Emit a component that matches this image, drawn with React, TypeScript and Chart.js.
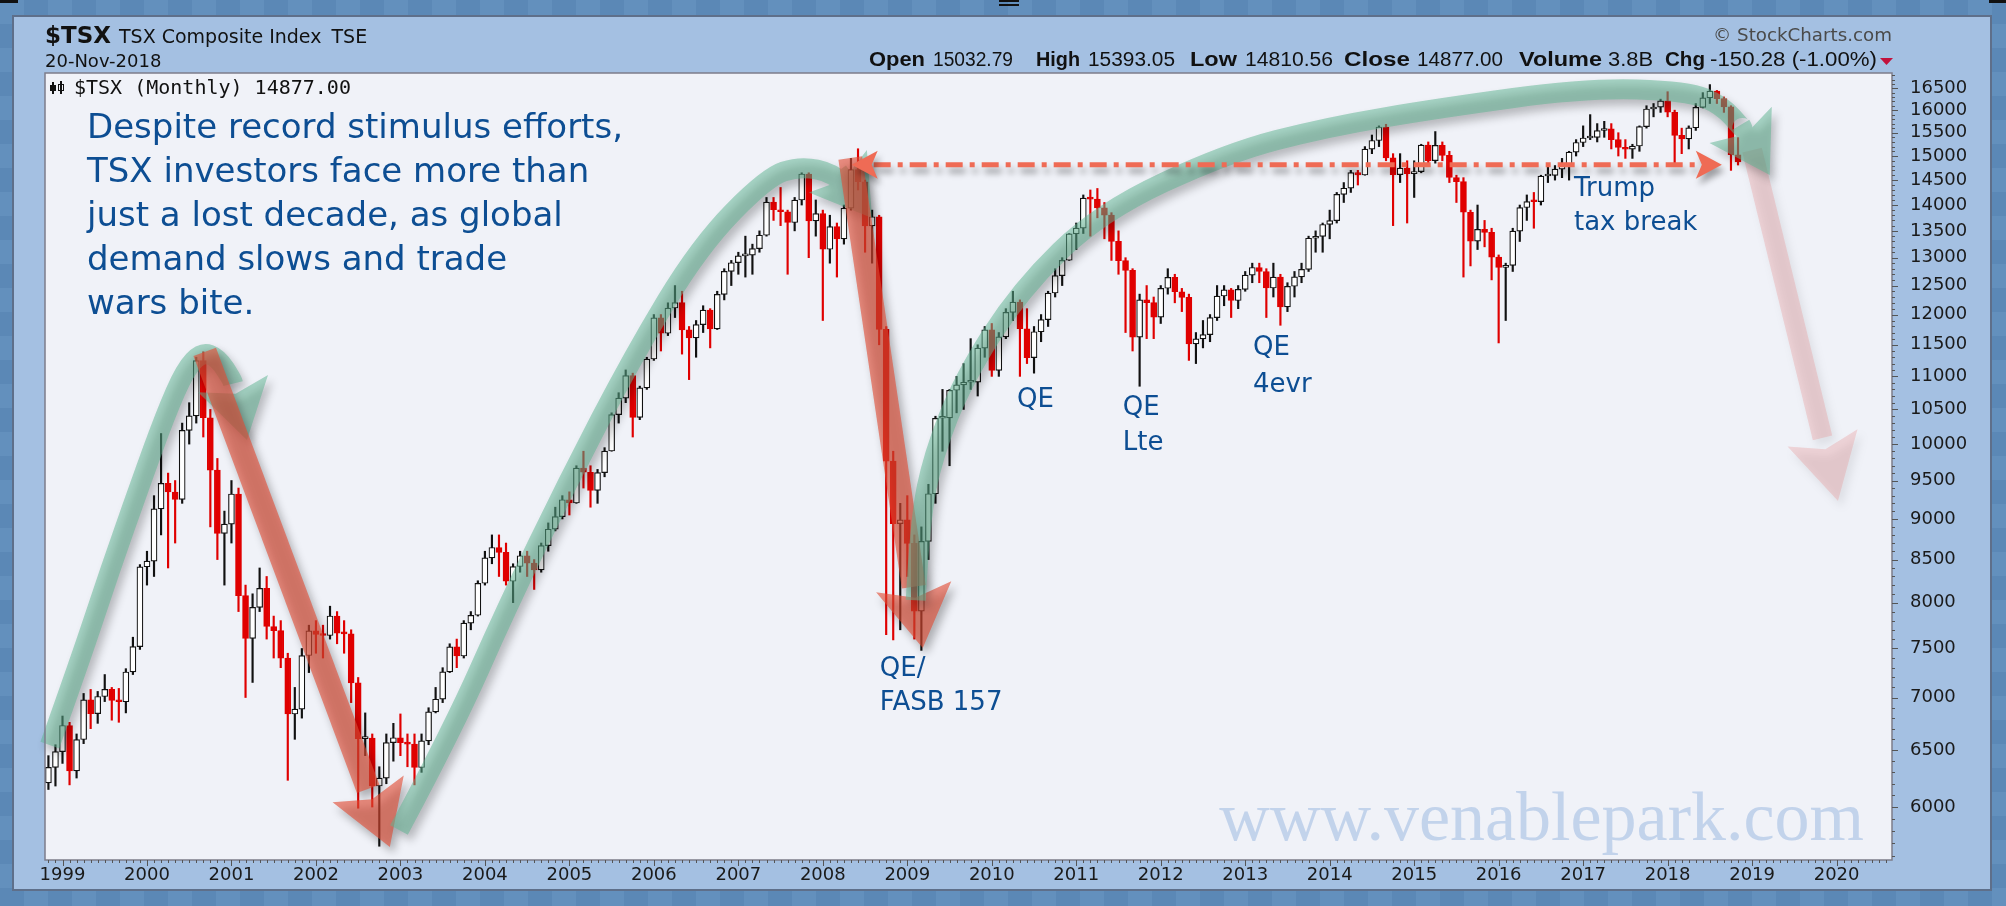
import React, { useEffect, useRef } from "react";
import { Chart, registerables } from "chart.js";

Chart.register(...registerables);

const CANVAS_W = 2006;
const CANVAS_H = 906;

// First candle is Nov 1998; month index 0 = Jan 1999
const FIRST_MONTH_INDEX = -2;
const FIRST_OPEN = 6208;

// Monthly closes, Nov 1998 .. Nov 2018
const closes = [
  6344, 6486,
  6730, 6313, 6598, 6976, 6842, 7010, 7081, 6971, 6958, 7256, 7520, 8414,
  8481, 9129, 9462, 9348, 9252, 10196, 10406, 11248, 10378, 9640, 8820, 8934,
  9322, 8079, 7608, 7947, 8162, 7736, 7691, 7399, 6839, 6886, 7426, 7688,
  7649, 7638, 7851, 7663, 7656, 7146, 6606, 6612, 6180, 6249, 6570, 6615,
  6569, 6555, 6343, 6586, 6860, 6983, 7258, 7517, 7421, 7773, 7859, 8221,
  8521, 8646, 8586, 8244, 8417, 8546, 8458, 8377, 8668, 8871, 9030, 9247,
  9204, 9668, 9612, 9369, 9607, 9903, 10423, 10669, 11012, 10383, 10824, 11272,
  11946, 11688, 12111, 12204, 11745, 11613, 11831, 12074, 11761, 12345, 12752, 12908,
  13034, 13045, 13166, 13417, 14057, 13907, 13869, 13660, 14099, 14625, 13689, 13833,
  13155, 13583, 13350, 13937, 14715, 14467, 13593, 13771, 11753, 9763, 8942, 8988,
  8695, 7904, 8720, 9325, 10370, 10375, 10787, 10868, 10910, 10911, 11447, 11746,
  11094, 11630, 12038, 12211, 11763, 11294, 11713, 11914, 12369, 12676, 12953, 13443,
  13552, 14137, 14116, 13945, 13803, 13301, 12946, 12769, 11624, 12252, 12204, 11955,
  12452, 12644, 12392, 12293, 11513, 11597, 11665, 11949, 12317, 12423, 12239, 12434,
  12685, 12822, 12750, 12457, 12650, 12129, 12487, 12654, 12787, 13361, 13395, 13622,
  13695, 14210, 14335, 14652, 14604, 15146, 15331, 15626, 14961, 14613, 14745, 14632,
  14674, 15234, 14902, 15225, 15014, 14553, 14468, 13859, 13307, 13529, 13470, 13010,
  12822, 12860, 13494, 13951, 14066, 14065, 14583, 14598, 14725, 14787, 15083, 15288,
  15386, 15399, 15548, 15586, 15350, 15182, 15144, 15212, 15635, 16026, 16067, 16209,
  15952, 15443, 15367, 15608, 16062, 16278, 16434, 16263, 16073, 15027, 14877,
];

const highs = [
  6450, 6550,
  6820, 6760, 6650, 7040, 7080, 7060, 7230, 7100, 7090, 7290, 7620, 8440,
  8600, 9300, 10150, 9600, 9500, 10300, 10600, 11300, 11388, 10500, 9800, 9100,
  9500, 9400, 8200, 8100, 8400, 8300, 7850, 7800, 7450, 7100, 7500, 7750,
  7800, 7750, 7960, 7900, 7800, 7700, 7200, 6850, 6650, 6350, 6650, 6750,
  6840, 6650, 6650, 6650, 6900, 7100, 7300, 7550, 7600, 7800, 7900, 8250,
  8600, 8800, 8800, 8700, 8450, 8600, 8600, 8500, 8700, 8950, 9150, 9300,
  9350, 9700, 9900, 9700, 9650, 9950, 10450, 10750, 11100, 11050, 10850, 11300,
  12000, 12000, 12200, 12500, 12400, 11800, 11900, 12150, 12100, 12400, 12800, 12950,
  13100, 13400, 13250, 13500, 14150, 14150, 14350, 13900, 14150, 14650, 14650, 14100,
  13900, 13800, 13650, 14000, 14950, 15154, 14500, 13900, 13800, 11800, 9900, 9200,
  9300, 8800, 8900, 9450, 10400, 10800, 10800, 11000, 11200, 11600, 11500, 11800,
  11850, 11700, 12100, 12400, 12250, 12100, 11800, 12000, 12400, 12800, 13000, 13450,
  13650, 14200, 14300, 14330, 14050, 13850, 13500, 13000, 12800, 12350, 12500, 12300,
  12500, 12800, 12700, 12450, 12350, 11700, 11900, 12000, 12500, 12500, 12450, 12500,
  12750, 12900, 12900, 12800, 12900, 12700, 12550, 12750, 12900, 13400, 13500, 13650,
  13900, 14250, 14450, 14700, 14700, 15200, 15450, 15650, 15685, 15050, 15050, 14900,
  14900, 15250, 15300, 15525, 15300, 15100, 14600, 14550, 13900, 14000, 13700, 13550,
  13050, 12900, 13550, 14000, 14200, 14250, 14600, 14800, 14800, 14950, 15100, 15350,
  15650, 15900, 15700, 15750, 15700, 15500, 15350, 15250, 15650, 16100, 16150, 16250,
  16421, 16000, 15600, 15650, 16150, 16400, 16586, 16450, 16300, 16100, 15393,
];

const lows = [
  6150, 6180,
  6380, 6190, 6250, 6560, 6700, 6750, 6960, 6780, 6760, 6850, 7230, 7490,
  8200, 8300, 8800, 8400, 8700, 9200, 10000, 10300, 10100, 8900, 8500, 8200,
  8700, 7900, 7000, 7150, 7900, 7600, 7400, 7300, 6230, 6600, 6800, 7250,
  7450, 7400, 7600, 7550, 7450, 6950, 5990, 6450, 6000, 5678, 6200, 6400,
  6450, 6350, 6190, 6300, 6550, 6850, 6950, 7250, 7300, 7400, 7700, 7850,
  8200, 8450, 8300, 8200, 8000, 8350, 8300, 8150, 8350, 8600, 8850, 9000,
  9050, 9200, 9400, 9150, 9200, 9550, 9900, 10300, 10600, 10100, 10350, 10800,
  11250, 11400, 11650, 11950, 11350, 10950, 11300, 11700, 11450, 11750, 12250, 12500,
  12700, 12650, 12700, 13100, 13400, 13700, 13600, 12700, 13500, 14000, 13000, 13400,
  11900, 12900, 12650, 13250, 13900, 14300, 13100, 12900, 11500, 7648, 7591, 7700,
  8300, 7600, 7480, 8500, 9200, 9900, 9700, 10450, 10500, 10800, 10700, 11300,
  11000, 11000, 11600, 11900, 11000, 11200, 11050, 11550, 11800, 12300, 12500, 12950,
  13150, 13450, 13400, 13750, 13350, 12950, 12700, 11700, 11400, 10848, 11600, 11600,
  11850, 12350, 12200, 12050, 11250, 11200, 11450, 11550, 11900, 12150, 11950, 12100,
  12400, 12550, 12550, 11950, 12300, 11820, 12050, 12300, 12550, 12750, 13100, 13100,
  13350, 13650, 14050, 14250, 14400, 14600, 15050, 15200, 14900, 13600, 14450, 13650,
  14150, 14650, 14800, 14850, 14900, 14450, 14050, 12650, 12850, 13150, 13200, 12600,
  11530, 11900, 12750, 13300, 13700, 13550, 14000, 14450, 14500, 14550, 14500, 15000,
  15200, 15350, 15300, 15400, 15150, 15000, 14950, 14950, 15100, 15600, 15850, 15950,
  15850, 14785, 15050, 15150, 15550, 16050, 16150, 16150, 15950, 14700, 14811,
];

const yearLabels = [
  "1999", "2000", "2001", "2002", "2003", "2004", "2005", "2006", "2007", "2008", "2009",
  "2010", "2011", "2012", "2013", "2014", "2015", "2016", "2017", "2018", "2019", "2020",
];
const priceTicks = [
  6000, 6500, 7000, 7500, 8000, 8500, 9000, 9500, 10000, 10500, 11000,
  11500, 12000, 12500, 13000, 13500, 14000, 14500, 15000, 15500, 16000, 16500,
];

// annotation paths in [month index, index value]
const greenArrow1: [number, number][] = [
  [-1.8, 6547], [2.5, 7378], [6.75, 8376], [11.0, 9440], [14.6, 10418], [17.4, 11100],
  [19.8, 11386], [22.1, 11290], [24.1, 10943], [26.2, 10058],
];
const redArrow1: [number, number][] = [[20.2, 11386], [46.5, 5672]];
const greenArrow2: [number, number][] = [
  [47.8, 5809], [55.6, 6715], [63.0, 7926], [71.7, 9467], [81.0, 11306], [90.5, 13218],
  [100.1, 14563], [104.8, 14790], [109.5, 14645], [112.6, 14199], [115.0, 13745],
];
const redArrow2: [number, number][] = [[111.9, 14958], [122.2, 7504]];
const greenArrow3: [number, number][] = [
  [121.2, 8027], [121.8, 8987], [123.7, 9847], [127.9, 10943], [136.0, 12421], [147.4, 13862],
  [165.4, 15064], [179.6, 15624], [195.7, 16048], [216.5, 16506], [230.8, 16436],
  [235.7, 16116], [238.8, 15558], [242.5, 14603],
];
const pinkArrow: [number, number][] = [[240.0, 15127], [252.2, 9230]];
const resistanceLevel = 14817;
const resistanceFrom = 112.1;
const resistanceTo = 235.7;

const mainText = [
  "Despite record stimulus efforts,",
  "TSX investors face more than",
  "just a lost decade, as global",
  "demand slows and trade",
  "wars bite.",
];
const labelNotes: { m: number; v: number; text: string }[] = [
  { m: 116.1, v: 7214, text: "QE/" },
  { m: 116.1, v: 6878, text: "FASB 157" },
  { m: 135.6, v: 10538, text: "QE" },
  { m: 150.6, v: 10418, text: "QE" },
  { m: 150.6, v: 9917, text: "Lte" },
  { m: 169.1, v: 11337, text: "QE" },
  { m: 169.1, v: 10762, text: "4evr" },
  { m: 214.7, v: 14179, text: "Trump" },
  { m: 214.7, v: 13516, text: "tax break" },
];

// quote header pieces: [text, bold, startX, endX]
const quoteRow: [string, boolean, number, number][] = [
  ["Open", true, 869, 925],
  ["15032.79", false, 933, 1013],
  ["High", true, 1036, 1080],
  ["15393.05", false, 1088, 1175],
  ["Low", true, 1190, 1237],
  ["14810.56", false, 1245, 1333],
  ["Close", true, 1344, 1410],
  ["14877.00", false, 1417, 1503],
  ["Volume", true, 1519, 1602],
  ["3.8B", false, 1608, 1653],
  ["Chg", true, 1665, 1705],
  ["-150.28 (-1.00%)", false, 1710, 1877],
];

const SANS = '"DejaVu Sans", Verdana, sans-serif';
const ARIAL = '"Liberation Sans", Arial, sans-serif';
const NOTE_BLUE = "#0d4e93";

type Pt = [number, number];

function fitText(ctx: CanvasRenderingContext2D, text: string, x0: number, x1: number, y: number) {
  const w = ctx.measureText(text).width;
  ctx.save();
  ctx.translate(x0, y);
  ctx.scale((x1 - x0) / w, 1);
  ctx.textAlign = "left";
  ctx.fillText(text, 0, 0);
  ctx.restore();
}

function drawArrow(
  chart: any,
  pts: Pt[],
  o: { color: string; alpha: number; width: number; headLen: number; headW: number; shadow: string }
) {
  const { ctx } = chart;
  const xs = chart.scales.x;
  const ys = chart.scales.y;
  const p: Pt[] = pts.map(([m, v]) => [xs.getPixelForValue(m), ys.getPixelForValue(v)]);
  const off = document.createElement("canvas");
  off.width = chart.width;
  off.height = chart.height;
  const c = off.getContext("2d")!;
  const n = p.length;
  const tip = p[n - 1];
  const prev = p[n - 2];
  let dx = tip[0] - prev[0];
  let dy = tip[1] - prev[1];
  const L = Math.hypot(dx, dy);
  dx /= L;
  dy /= L;
  const base: Pt = [tip[0] - dx * o.headLen, tip[1] - dy * o.headLen];
  const path: Pt[] = [...p.slice(0, n - 1), base];
  c.strokeStyle = o.color;
  c.lineWidth = o.width;
  c.lineCap = "butt";
  c.lineJoin = "round";
  c.beginPath();
  c.moveTo(path[0][0], path[0][1]);
  if (path.length === 2) {
    c.lineTo(path[1][0], path[1][1]);
  } else {
    for (let i = 1; i < path.length - 1; i++) {
      const mx = (path[i][0] + path[i + 1][0]) / 2;
      const my = (path[i][1] + path[i + 1][1]) / 2;
      c.quadraticCurveTo(path[i][0], path[i][1], mx, my);
    }
    c.lineTo(path[path.length - 1][0], path[path.length - 1][1]);
  }
  c.stroke();
  const nx = -dy;
  const ny = dx;
  c.fillStyle = o.color;
  c.beginPath();
  c.moveTo(tip[0], tip[1]);
  c.lineTo(base[0] + nx * o.headW, base[1] + ny * o.headW);
  c.lineTo(base[0] + dx * o.headLen * 0.18, base[1] + dy * o.headLen * 0.18);
  c.lineTo(base[0] - nx * o.headW, base[1] - ny * o.headW);
  c.closePath();
  c.fill();
  ctx.save();
  ctx.globalAlpha = o.alpha;
  ctx.shadowColor = o.shadow;
  ctx.shadowBlur = 9;
  ctx.shadowOffsetX = 4;
  ctx.shadowOffsetY = 6;
  ctx.drawImage(off, 0, 0);
  ctx.restore();
}

const framePlugin = {
  id: "stockframe",
  beforeDraw(chart: any) {
    const { ctx, chartArea: a } = chart;
    ctx.save();
    ctx.fillStyle = "#5b88b6";
    ctx.fillRect(0, 0, CANVAS_W, CANVAS_H);
    const s = 24;
    ctx.fillStyle = "#6390bd";
    for (let y = 0; y < CANVAS_H; y += s) {
      for (let x = 0; x < CANVAS_W; x += s) {
        if ((x / s + y / s) % 2 === 0) ctx.fillRect(x, y, s, s);
      }
    }
    ctx.fillStyle = "#111";
    ctx.fillRect(0, 0, 18, 3);
    ctx.fillRect(1989, 0, 17, 3);
    ctx.fillRect(999, 0, 20, 2);
    ctx.fillRect(999, 4, 20, 2);
    // panel
    ctx.fillStyle = "#a4c0e2";
    ctx.fillRect(13, 16, 1978, 874);
    ctx.strokeStyle = "#5e6f8a";
    ctx.lineWidth = 2;
    ctx.strokeRect(13, 16, 1978, 874);
    // plot area
    ctx.fillStyle = "#f0f2f8";
    ctx.fillRect(a.left, a.top, a.right - a.left, a.bottom - a.top);
    // watermark
    ctx.font = '70px "Liberation Serif", "Times New Roman", serif';
    ctx.fillStyle = "rgba(176,198,230,0.72)";
    ctx.textAlign = "right";
    ctx.textBaseline = "alphabetic";
    ctx.fillText("www.venablepark.com", a.right - 28, a.bottom - 20);
    ctx.restore();
  },
  afterDatasetsDraw(chart: any) {
    const { ctx, chartArea: a } = chart;
    const xs = chart.scales.x;
    const ys = chart.scales.y;
    const green = { color: "rgb(96,180,146)", alpha: 0.52, width: 20, headLen: 58, headW: 36, shadow: "rgba(0,0,0,0.45)" };
    const red = { color: "rgb(226,76,52)", alpha: 0.62, width: 24, headLen: 62, headW: 38, shadow: "rgba(0,0,0,0.45)" };
    drawArrow(chart, greenArrow1, green);
    drawArrow(chart, redArrow1, red);
    drawArrow(chart, greenArrow2, green);
    drawArrow(chart, redArrow2, red);
    drawArrow(chart, pinkArrow, { color: "rgb(232,140,140)", alpha: 0.3, width: 20, headLen: 65, headW: 36, shadow: "rgba(0,0,0,0.25)" });
    drawArrow(chart, greenArrow3, green);

    // dash-dot resistance line with arrowheads
    const yL = ys.getPixelForValue(resistanceLevel);
    const x0 = xs.getPixelForValue(resistanceFrom);
    const x1 = xs.getPixelForValue(resistanceTo);
    ctx.save();
    ctx.shadowColor = "rgba(0,0,0,0.35)";
    ctx.shadowBlur = 6;
    ctx.shadowOffsetX = 3;
    ctx.shadowOffsetY = 6;
    ctx.strokeStyle = "#ef6b55";
    ctx.fillStyle = "#ef6b55";
    ctx.lineWidth = 5;
    ctx.setLineDash([17, 7, 5, 7]);
    ctx.beginPath();
    ctx.moveTo(x0 + 22, yL);
    ctx.lineTo(x1 - 22, yL);
    ctx.stroke();
    ctx.setLineDash([]);
    ctx.beginPath();
    ctx.moveTo(x0, yL);
    ctx.lineTo(x0 + 26, yL - 14);
    ctx.lineTo(x0 + 20, yL);
    ctx.lineTo(x0 + 26, yL + 14);
    ctx.closePath();
    ctx.fill();
    ctx.beginPath();
    ctx.moveTo(x1, yL);
    ctx.lineTo(x1 - 26, yL - 14);
    ctx.lineTo(x1 - 20, yL);
    ctx.lineTo(x1 - 26, yL + 14);
    ctx.closePath();
    ctx.fill();
    ctx.restore();

    // text annotations
    ctx.save();
    ctx.fillStyle = NOTE_BLUE;
    ctx.textAlign = "left";
    ctx.textBaseline = "alphabetic";
    ctx.font = `34px ${SANS}`;
    mainText.forEach((line, i) => {
      ctx.fillText(line, a.left + 42, a.top + 65 + i * 44);
    });
    ctx.font = `26px ${SANS}`;
    labelNotes.forEach((n) => {
      ctx.fillText(n.text, xs.getPixelForValue(n.m), ys.getPixelForValue(n.v));
    });
    ctx.restore();
  },
  afterDraw(chart: any) {
    const { ctx, chartArea: a } = chart;
    const xs = chart.scales.x;
    const ys = chart.scales.y;
    ctx.save();
    // plot border
    ctx.strokeStyle = "#7c7c8a";
    ctx.lineWidth = 1.5;
    ctx.strokeRect(a.left, a.top, a.right - a.left, a.bottom - a.top);
    // x ticks
    ctx.strokeStyle = "#555";
    ctx.lineWidth = 1;
    ctx.beginPath();
    for (let m = Math.ceil(xs.min); m <= xs.max; m++) {
      const px = Math.round(xs.getPixelForValue(m)) + 0.5;
      ctx.moveTo(px, a.bottom);
      ctx.lineTo(px, a.bottom + (m % 12 === 0 ? 6 : 3));
    }
    // y ticks
    for (let v = 5600; v <= 16800; v += 100) {
      const py = Math.round(ys.getPixelForValue(v)) + 0.5;
      ctx.moveTo(a.right, py);
      ctx.lineTo(a.right + (v % 500 === 0 ? 6 : 3), py);
    }
    ctx.stroke();

    // legend line inside plot
    ctx.fillStyle = "#111";
    ctx.fillRect(52, 82, 2, 12);
    ctx.fillRect(50, 85, 6, 6);
    ctx.fillRect(60, 81, 2, 13);
    ctx.strokeStyle = "#111";
    ctx.strokeRect(58.5, 84.5, 5, 6);
    ctx.font = '20px "DejaVu Sans Mono", monospace';
    ctx.textAlign = "left";
    ctx.textBaseline = "alphabetic";
    ctx.fillText("$TSX (Monthly) 14877.00", 74, 94);

    // header left
    ctx.fillStyle = "#111";
    ctx.font = `bold 23px ${SANS}`;
    ctx.fillText("$TSX", 45, 43);
    const w1 = ctx.measureText("$TSX").width;
    ctx.font = `19px ${SANS}`;
    ctx.fillText("TSX Composite Index", 45 + w1 + 8, 43);
    const w2 = ctx.measureText("TSX Composite Index").width;
    ctx.fillText("TSE", 45 + w1 + 8 + w2 + 10, 43);
    ctx.font = `18px ${SANS}`;
    ctx.fillText("20-Nov-2018", 45, 67);

    // header right
    ctx.fillStyle = "#4a4a4a";
    ctx.font = `17px ${SANS}`;
    fitText(ctx, "\u00A9 StockCharts.com", 1713, 1892, 41);
    ctx.fillStyle = "#111";
    quoteRow.forEach(([t, b, s0, s1]) => {
      ctx.font = `${b ? "bold " : ""}20px ${ARIAL}`;
      fitText(ctx, t, s0, s1, 66);
    });
    ctx.fillStyle = "#c2113c";
    ctx.beginPath();
    ctx.moveTo(1880, 58);
    ctx.lineTo(1893, 58);
    ctx.lineTo(1886.5, 65);
    ctx.closePath();
    ctx.fill();
    ctx.restore();
  },
};

export default function App() {
  const ref = useRef<HTMLCanvasElement>(null);
  useEffect(() => {
    const canvas = ref.current;
    if (!canvas) return;
    const opens = closes.map((c, i) => (i === 0 ? FIRST_OPEN : closes[i - 1]));
    const xIdx = closes.map((_, i) => FIRST_MONTH_INDEX + i);
    const up = closes.map((c, i) => c >= opens[i]);
    const X_MIN = (45 - 62.5) / 7.04;
    const X_MAX = (1892 - 62.5) / 7.04;
    const chart = new Chart(canvas, {
      type: "bar",
      data: {
        datasets: [
          {
            label: "range",
            data: xIdx.map((x, i) => ({ x, y: [lows[i], highs[i]] })) as any,
            backgroundColor: up.map((u) => (u ? "#111" : "#e00000")),
            borderWidth: 0,
            barThickness: 1.5,
            grouped: false,
            order: 2,
          } as any,
          {
            label: "body",
            data: xIdx.map((x, i) => ({ x, y: [opens[i], closes[i]] })) as any,
            backgroundColor: up.map((u) => (u ? "#ffffff" : "#e00000")),
            borderColor: up.map((u) => (u ? "#111" : "#e00000")),
            borderWidth: 1.2,
            borderSkipped: false,
            barThickness: 6,
            minBarLength: 2,
            grouped: false,
            order: 1,
          } as any,
        ],
      },
      options: {
        animation: false,
        responsive: false,
        devicePixelRatio: 1,
        layout: { padding: { left: 45, top: 73, right: 0, bottom: 0 } },
        plugins: { legend: { display: false }, tooltip: { enabled: false } },
        scales: {
          x: {
            type: "linear",
            min: X_MIN,
            max: X_MAX,
            offset: false,
            grid: { display: false, drawTicks: true, tickLength: 5 },
            border: { display: false },
            ticks: {
              autoSkip: false,
              maxRotation: 0,
              padding: 0,
              color: "#1a1a1a",
              font: { family: SANS, size: 18 },
              callback: (_v: any, i: number) => yearLabels[i],
            },
            afterBuildTicks: (s: any) => {
              s.ticks = yearLabels.map((_, i) => ({ value: i * 12 }));
            },
            afterFit: (s: any) => {
              s.height = CANVAS_H - 860;
            },
          },
          y: {
            type: "logarithmic",
            position: "right",
            min: 5569,
            max: 16859,
            grid: { display: false, drawTicks: true, tickLength: 6 },
            border: { display: false },
            ticks: {
              autoSkip: false,
              padding: 12,
              color: "#1a1a1a",
              font: { family: SANS, size: 18 },
              callback: (v: any) => String(v),
            },
            afterBuildTicks: (s: any) => {
              s.ticks = priceTicks.map((v) => ({ value: v }));
            },
            afterFit: (s: any) => {
              s.width = CANVAS_W - 1892;
            },
          },
        },
      } as any,
      plugins: [framePlugin],
    });
    return () => chart.destroy();
  }, []);
  return (
    <div style={{ position: "absolute", left: 0, top: 0, width: CANVAS_W, height: CANVAS_H, overflow: "hidden" }}>
      <canvas ref={ref} width={CANVAS_W} height={CANVAS_H} style={{ display: "block", width: CANVAS_W, height: CANVAS_H }} />
    </div>
  );
}
